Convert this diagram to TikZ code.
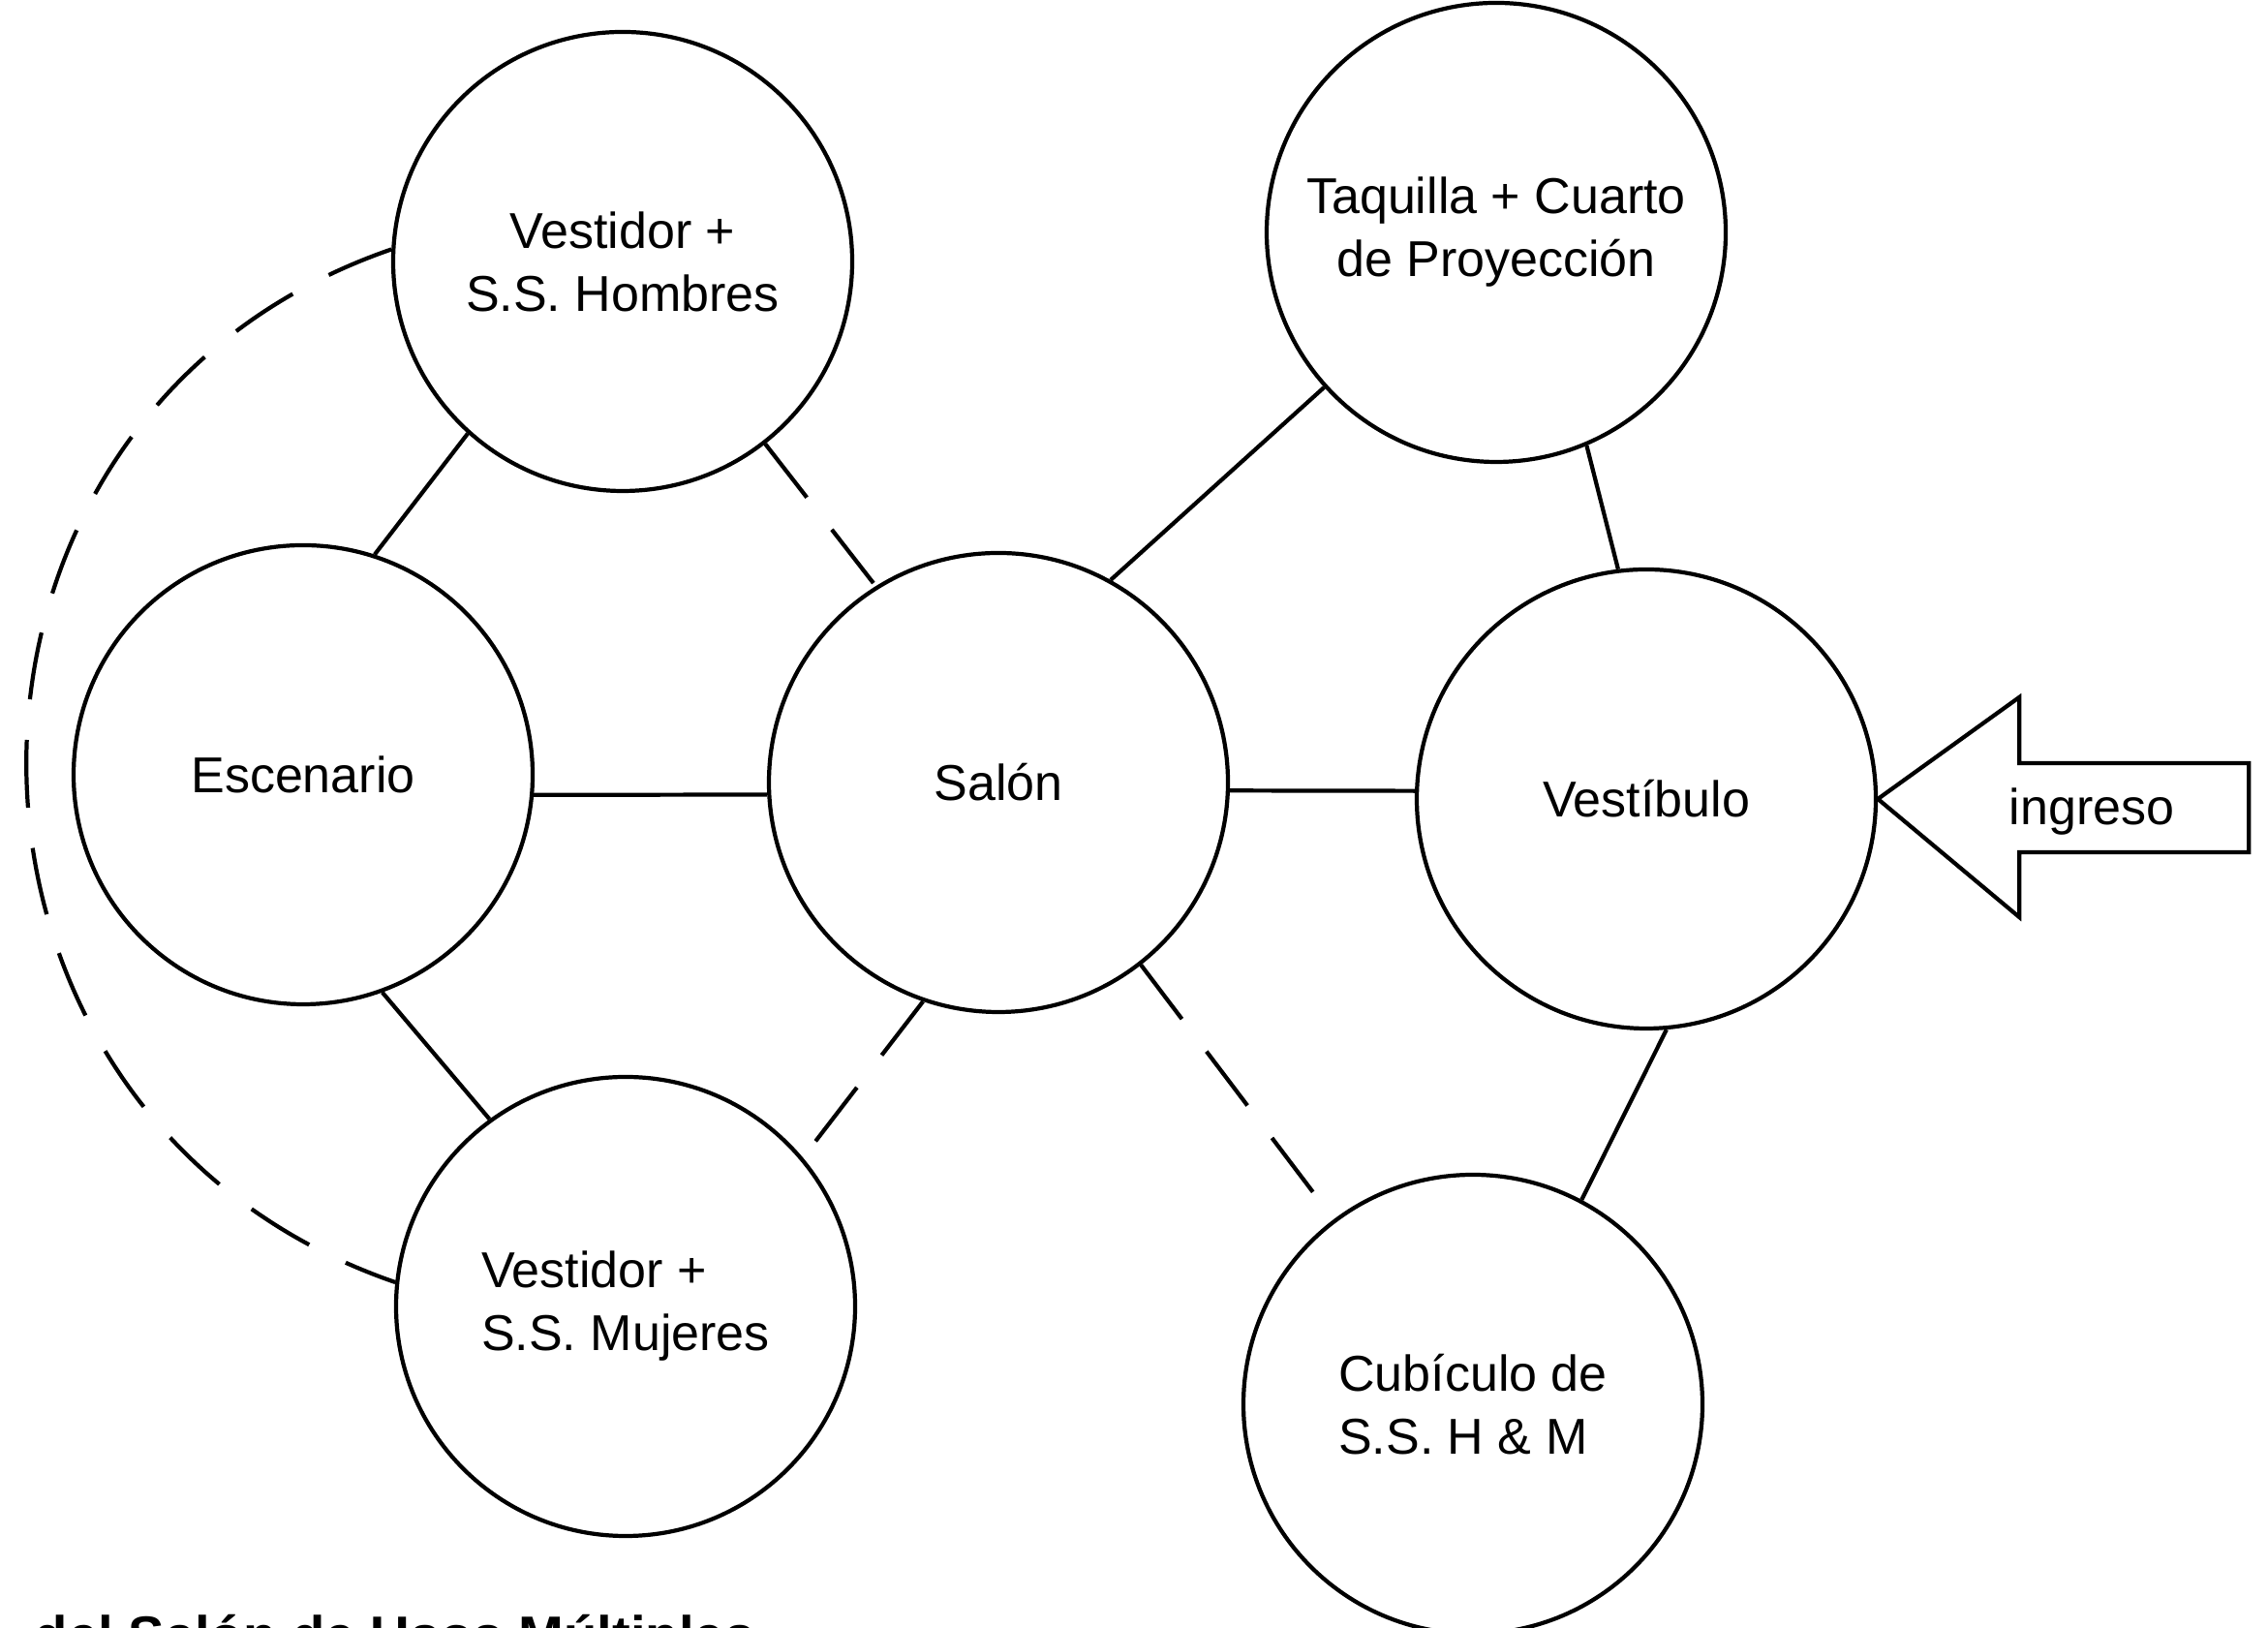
\documentclass[tikz,border=0pt]{standalone}
\usepackage{fontspec}
\setmainfont{Liberation Sans}

\begin{document}
\begin{tikzpicture}
    % Size of the room circles
    \def\d{4.74cm}
    % Style definitions
    \tikzset{
        % one room
        room/.style={draw, circle, line width=1.2pt, minimum size=\d,
            inner sep=0pt, align=center,
            font=\fontsize{14.8}{18.5}\selectfont},
        % direct link
        tie/.style={line width=1.2pt},
        % weak link
        loose tie/.style={line width=1.2pt, dash pattern=on 0.7cm off 0.42cm}
    }
    \useasboundingbox (0,0) rectangle (23.42,16.81);
    \clip (0,0) rectangle (23.42,16.81);

    % Top row of rooms
    \node[room] (hom) at (6.43, 14.11) {Vestidor +\\S.S. Hombres};
    \node[room] (taq) at (15.45, 14.41) {Taquilla + Cuarto\\de Proyección};

    % Middle row of rooms
    \node[room] (esc) at (3.13, 8.81) {Escenario};
    \node[room] (sal) at (10.31, 8.73) {Salón};
    \node[room] (ves) at (17.00, 8.56) {Vestíbulo};

    % Bottom row of rooms
    \node[room, align=left] (muj) at (6.46, 3.32) {Vestidor +\\S.S. Mujeres};
    \node[room, align=left] (cub) at (15.21, 2.31) {Cubículo de\\S.S. H \& M};

    % Links between rooms
    \draw[tie] (hom.228) -- (esc.72);
    \draw[loose tie] (hom.308) -- (sal.122);
    \draw[tie] (esc.-5) -- (sal.183);
    \draw[tie] (sal.-2) -- (ves.178);
    \draw[tie] (sal.61) -- (taq.222);
    \draw[tie] (taq.293) -- (ves.97);
    \draw[tie] (esc.290) -- (muj.126);
    \draw[loose tie] (sal.251) -- (muj.40);
    \draw[loose tie] (sal.308) -- (cub.127);
    \draw[tie] (ves.275) -- (cub.62);

    % Around the stage
    \draw[loose tie] (hom.177) to[out=199, in=161, looseness=1.28] (muj.174);

    % Entrance arrow
    \draw[tie, line join=miter] (ves.east) -- ++(1.46,1.05) -- ++(0,-0.68)
        -- ++(2.37,0) -- ++(0,-0.92) -- ++(-2.37,0) -- ++(0,-0.67) -- cycle;
    \node[anchor=base, font=\fontsize{14.8}{18.5}\selectfont] (ing) at (21.60, 8.29) {ingreso};

    % Title, cut by the page edge
    \node[anchor=base west, inner sep=0pt, font=\fontsize{16}{19}\selectfont\bfseries]
        (tit) at (0.35, -0.28) {del Salón de Usos Múltiples};
\end{tikzpicture}
\end{document}
